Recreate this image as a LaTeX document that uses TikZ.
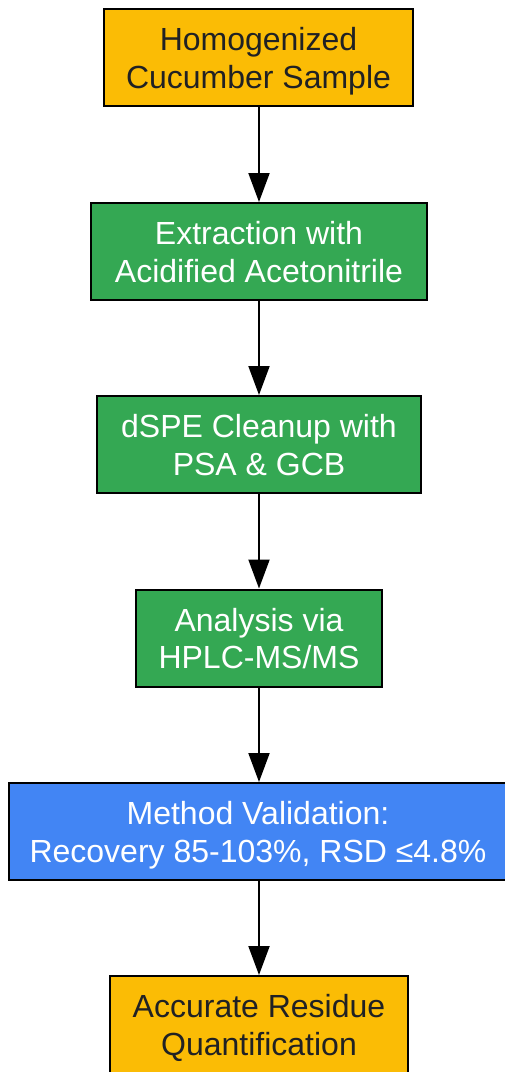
\documentclass[tikz,border=0pt]{standalone}
\usepackage{fontspec}
\setmainfont{Liberation Sans}
\usetikzlibrary{arrows.meta}
\definecolor{cOrange}{HTML}{FBBC05}
\definecolor{cGreen}{HTML}{34A853}
\definecolor{cBlue}{HTML}{4285F4}
\definecolor{cDark}{HTML}{202124}
\newcommand\topstrut{\rule{0pt}{32pt}}
\newcommand\botstrut{\rule[-8pt]{0pt}{8pt}}
\tikzset{
  box/.style={draw=black, line width=2pt, rectangle, align=center, minimum height=97pt,
    inner sep=0pt, font=\fontsize{32}{37.5}\selectfont},
  obox/.style={box, fill=cOrange, text=cDark},
  gbox/.style={box, fill=cGreen, text=white},
  bbox/.style={box, fill=cBlue, text=white},
  arr/.style={line width=2pt, -{Triangle[length=29pt,width=21pt]}}
}
\begin{document}
\begin{tikzpicture}[x=1pt,y=-1pt]
\useasboundingbox (0,0) rectangle (504,1072);
\node[obox, minimum width=309pt] (n1) at (258.5,57.5) {\topstrut Homogenized\\Cucumber Sample\botstrut};
\node[gbox, minimum width=336pt] (n2) at (259,251.5) {\topstrut Extraction with\\Acidified Acetonitrile\botstrut};
\node[gbox, minimum width=324pt] (n3) at (259,444.5) {\topstrut dSPE Cleanup with\\PSA \& GCB\botstrut};
\node[gbox, minimum width=246pt] (n4) at (259,638) {\topstrut Analysis via\\HPLC-MS/MS\botstrut};
\node[bbox, minimum width=498pt] (n5) at (258,831.5) {\topstrut Method Validation:\\Recovery 85-103\%, RSD ≤4.8\%\botstrut};
\node[obox, minimum width=298pt] (n6) at (259,1024.5) {\topstrut Accurate Residue\\Quantification\botstrut};
\draw[arr] (n1.south -| n2.north) -- (n2.north);
\draw[arr] (n2) -- (n3);
\draw[arr] (n3) -- (n4);
\draw[arr] (n4.south) -- (n4.south |- n5.north);
\draw[arr] (n5.south -| n6.north) -- (n6.north);
\end{tikzpicture}
\end{document}
